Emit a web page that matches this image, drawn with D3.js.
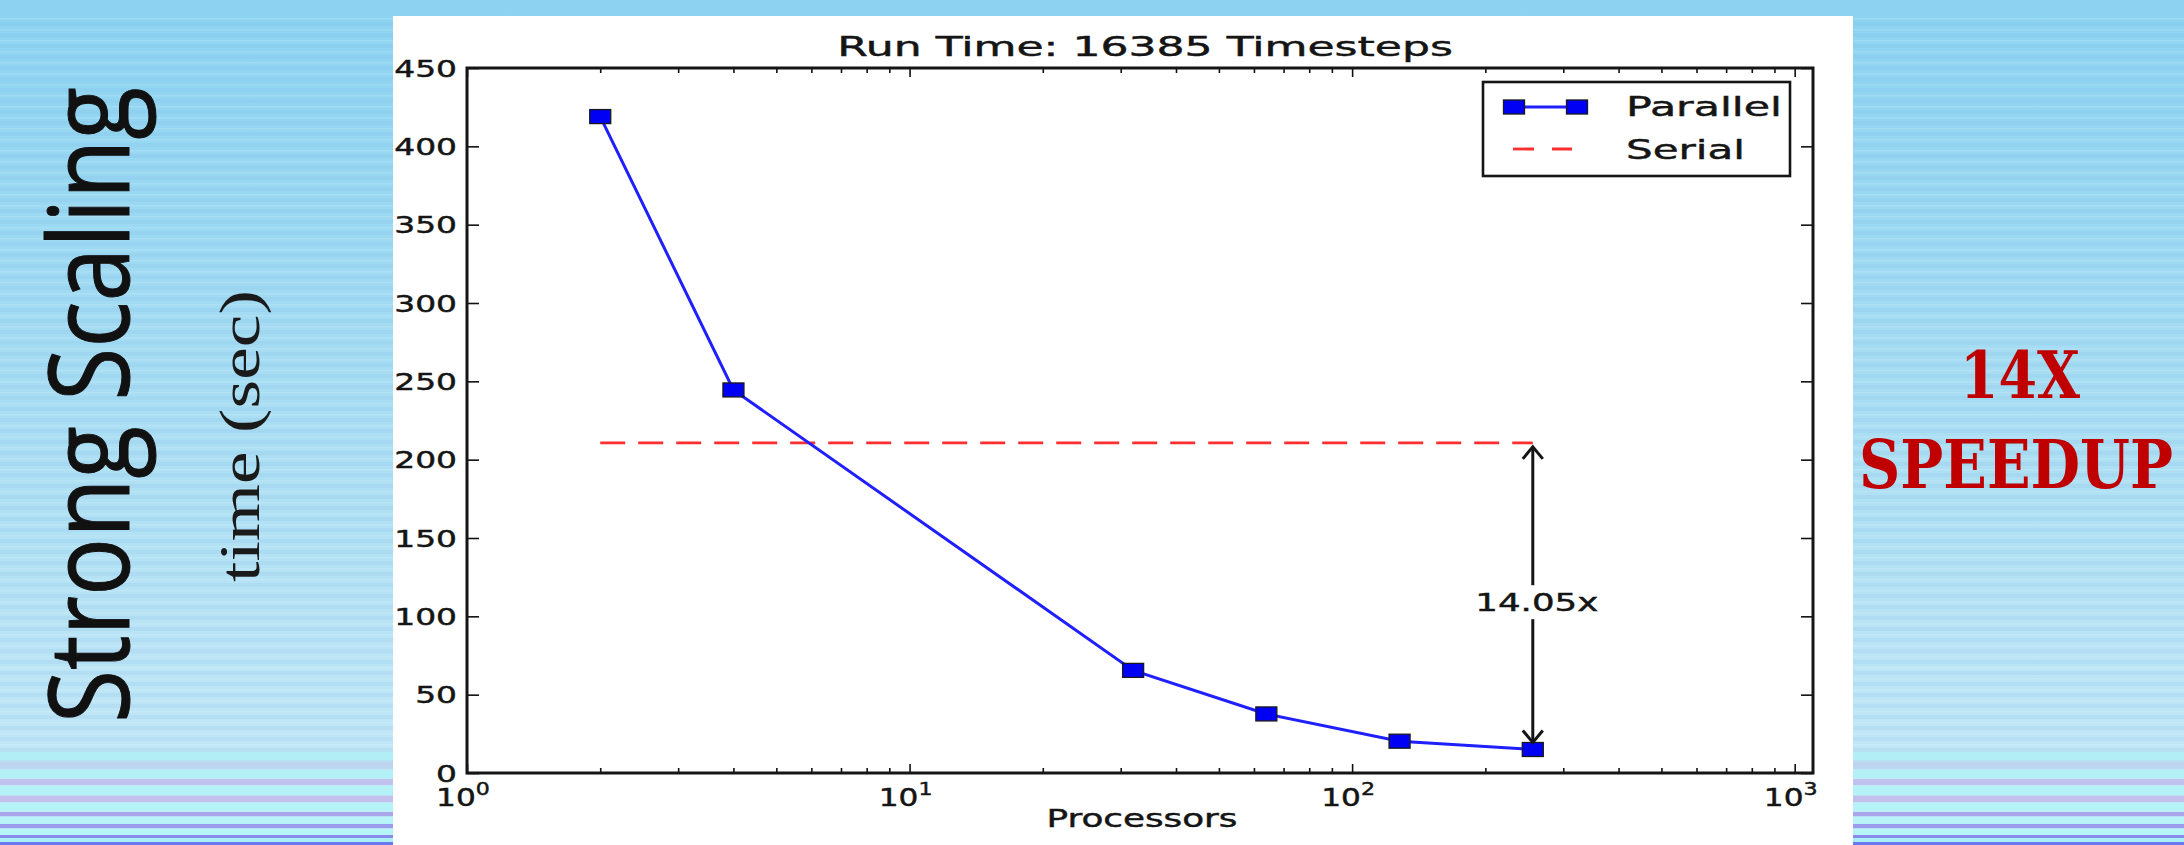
<!DOCTYPE html>
<html><head><meta charset="utf-8">
<script src="https://cdn.jsdelivr.net/npm/d3@7"></script>
<style>body{margin:0;background:#fff;} svg{display:block}</style>
</head><body><svg id="c" width="2184" height="845"></svg>
<script>
// ---- data ----
const processors = [2, 4, 32, 64, 128, 256];
const parallelTime = [419, 244.5, 65.5, 37.7, 20.3, 15.0];
const serialTime = 210.7;
const speedupLabel = "14.05x";
const yTickValues = [0, 50, 100, 150, 200, 250, 300, 350, 400, 450];
const xMajorTicks = [1, 10, 100, 1000];
const xTickExponents = ["0", "1", "2", "3"];
const seriesNames = ["Parallel", "Serial"];
const chartTitle = "Run Time: 16385 Timesteps";
const xLabel = "Processors";
const yLabel = "time (sec)";
const sideTitle = "Strong Scaling";
const callout = ["14X", "SPEEDUP"];

// ---- layout ----
const W = 2184, H = 845;
const L = 467, R = 1813, T = 68, B = 773;
const SX = 1.43; // horizontal stretch of the chart picture
const svg = d3.select("#c");

// background
const defs = svg.append("defs");
const grad = defs.append("linearGradient").attr("id", "bg").attr("x1", 0).attr("x2", 0).attr("y1", 0).attr("y2", 1);
[[0, "#8cd3f1"], [0.45, "#a7ddf3"], [0.85, "#bfe6f6"], [1, "#c4e8f6"]].forEach(s =>
  grad.append("stop").attr("offset", s[0]).attr("stop-color", s[1]));
const pat = defs.append("pattern").attr("id", "stripes").attr("patternUnits", "userSpaceOnUse")
  .attr("width", 20).attr("height", 11);
pat.append("rect").attr("x", 0).attr("y", 0).attr("width", 20).attr("height", 4).attr("fill", "rgba(110,160,215,0.11)");
pat.append("rect").attr("x", 0).attr("y", 7).attr("width", 20).attr("height", 1.5).attr("fill", "rgba(255,255,255,0.12)");
svg.append("rect").attr("width", W).attr("height", H).attr("fill", "url(#bg)");
svg.append("rect").attr("y", 16).attr("width", W).attr("height", H - 16).attr("fill", "url(#stripes)");

const bottomBands = [
  [752, 8, "#b2eef6"], [762, 7, "#bcd6f2"], [770, 8, "#b4f0f7"], [779, 6, "#c2c2ee"],
  [786, 9, "#b4f2f8"], [796, 6, "#c4c0ee"], [803, 8, "#b6f3f8"], [812, 4, "#a9a6ec"],
  [817, 7, "#b9f4f8"], [824, 4, "#9c9cee"], [829, 6, "#b6f4f8"], [835, 3, "#8a8aee"],
  [838, 4, "#a8f0f6"], [842, 3, "#6a78ee"]
];
[[0, 393], [1853, W - 1853]].forEach(([x0, w]) => {
  svg.append("g").selectAll("rect").data(bottomBands).join("rect")
    .attr("x", x0).attr("width", w).attr("y", d => d[0]).attr("height", d => d[1]).attr("fill", d => d[2]);
});

// white panel
svg.append("rect").attr("x", 393).attr("y", 16).attr("width", 1853 - 393).attr("height", H - 16).attr("fill", "#fff");

// scales
const x = d3.scaleLog().domain([1, 1100]).range([L, R]);
const y = d3.scaleLinear().domain([0, 450]).range([B, T]);

const isMajor = v => Math.abs(Math.log10(v) - Math.round(Math.log10(v))) < 1e-9;
const minorTicks = x.ticks().filter(v => !isMajor(v));

function styleAxis(g) {
  g.select(".domain").remove();
  g.selectAll(".tick line").attr("stroke", "#111").attr("stroke-width", 1.6);
  g.selectAll(".tick text").remove();
}
const ax = svg.append("g");
ax.append("g").attr("transform", `translate(0,${B})`).call(d3.axisBottom(x).tickValues(minorTicks).tickSize(-5).tickFormat("")).call(styleAxis);
ax.append("g").attr("transform", `translate(0,${B})`).call(d3.axisBottom(x).tickValues(xMajorTicks).tickSize(-9).tickFormat("")).call(styleAxis);
ax.append("g").attr("transform", `translate(0,${T})`).call(d3.axisTop(x).tickValues(minorTicks).tickSize(-5).tickFormat("")).call(styleAxis);
ax.append("g").attr("transform", `translate(0,${T})`).call(d3.axisTop(x).tickValues(xMajorTicks).tickSize(-9).tickFormat("")).call(styleAxis);
ax.append("g").attr("transform", `translate(${L},0)`).call(d3.axisLeft(y).tickValues(yTickValues).tickSize(-12).tickFormat("")).call(styleAxis);
ax.append("g").attr("transform", `translate(${R},0)`).call(d3.axisRight(y).tickValues(yTickValues).tickSize(-12).tickFormat("")).call(styleAxis);

// helper: horizontally stretched text; if len given, the stretch is fitted to that width
function stext(parent, px, py, str, size, anchor, opts = {}) {
  const t = parent.append("text")
    .attr("text-anchor", anchor)
    .attr("font-family", opts.family || "DejaVu Sans, sans-serif")
    .attr("font-size", size)
    .attr("fill", opts.fill || "#151515")
    .attr("stroke", opts.fill || "#151515").attr("stroke-width", 0.45)
    .text(str);
  let sx = opts.sx || SX;
  if (opts.len) sx = opts.len / t.node().getComputedTextLength();
  t.attr("transform", `translate(${px},${py}) scale(${sx},1)`);
  return t;
}
// rotated text fitted to a given length (along its reading direction)
function vtext(px, py, str, size, len, family, fill, extra) {
  const t = svg.append("text").attr("text-anchor", "middle")
    .attr("font-family", family).attr("font-size", size).attr("fill", fill).text(str);
  if (extra) extra(t);
  const k = len / t.node().getComputedTextLength();
  t.attr("transform", `translate(${px},${py}) rotate(-90) scale(${k},1)`);
  return t;
}
// horizontal text fitted to width (no vertical change)
function htext(px, py, str, size, len, family, fill, extra) {
  const t = svg.append("text").attr("text-anchor", "middle")
    .attr("font-family", family).attr("font-size", size).attr("fill", fill).text(str);
  if (extra) extra(t);
  const k = len / t.node().getComputedTextLength();
  t.attr("transform", `translate(${px},${py}) scale(${k},1)`);
  return t;
}

// y tick labels
yTickValues.forEach(v => stext(svg, 457, y(v) + 8.5, String(v), 23, "end"));

// x tick labels
xMajorTicks.forEach((v, i) => {
  const t = svg.append("text")
    .attr("transform", `translate(${x(v) - 4},806) scale(1.3,1)`)
    .attr("text-anchor", "middle")
    .attr("font-family", "DejaVu Sans, sans-serif").attr("font-size", 24).attr("fill", "#151515")
    .attr("stroke", "#151515").attr("stroke-width", 0.45);
  t.append("tspan").text("10");
  t.append("tspan").attr("dy", -11).attr("font-size", 17).text(xTickExponents[i]);
});

// serial dashed line
svg.append("line")
  .attr("x1", x(processors[0])).attr("x2", x(processors[processors.length - 1]))
  .attr("y1", y(serialTime)).attr("y2", y(serialTime))
  .attr("stroke", "#ff2f2f").attr("stroke-width", 2.8).attr("stroke-dasharray", "25,13");

// parallel line + markers
const pts = processors.map((p, i) => ({ p, t: parallelTime[i] }));
svg.append("path").datum(pts)
  .attr("d", d3.line().x(d => x(d.p)).y(d => y(d.t)))
  .attr("fill", "none").attr("stroke", "#1f1fff").attr("stroke-width", 3);
svg.append("g").selectAll("rect").data(pts).join("rect")
  .attr("x", d => x(d.p) - 10.5).attr("y", d => y(d.t) - 7)
  .attr("width", 21).attr("height", 14)
  .attr("fill", "#0000f5").attr("stroke", "#1a1a1a").attr("stroke-width", 1.3);

// speedup annotation (double arrow)
const lastP = processors[processors.length - 1];
const ax0 = x(lastP);
const yTop = y(serialTime) + 4, yBot = y(parallelTime[parallelTime.length - 1]) - 7;
const ann = svg.append("g").attr("stroke", "#151515").attr("stroke-width", 3).attr("fill", "none");
ann.append("line").attr("x1", ax0).attr("x2", ax0).attr("y1", yTop).attr("y2", yBot);
ann.append("path").attr("d", `M${ax0 - 10},${yTop + 12}L${ax0},${yTop}L${ax0 + 10},${yTop + 12}`);
ann.append("path").attr("d", `M${ax0 - 10},${yBot - 12}L${ax0},${yBot}L${ax0 + 10},${yBot - 12}`);
const midY = y((serialTime + parallelTime[parallelTime.length - 1]) / 2) + 6;
svg.append("rect").attr("x", ax0 - 64).attr("y", midY - 17).attr("width", 134).attr("height", 34).attr("fill", "#fff");
stext(svg, ax0 + 4, midY + 9, speedupLabel, 25, "middle", { len: 123 });

// frame
svg.append("rect").attr("x", L).attr("y", T).attr("width", R - L).attr("height", B - T)
  .attr("fill", "none").attr("stroke", "#151515").attr("stroke-width", 3);

// legend
const lg = svg.append("g");
lg.append("rect").attr("x", 1483).attr("y", 82).attr("width", 307).attr("height", 94)
  .attr("fill", "#fff").attr("stroke", "#151515").attr("stroke-width", 2.6);
lg.append("line").attr("x1", 1514).attr("x2", 1577).attr("y1", 107).attr("y2", 107)
  .attr("stroke", "#1f1fff").attr("stroke-width", 3);
[1514, 1577].forEach(cx => lg.append("rect").attr("x", cx - 10.5).attr("y", 100).attr("width", 21).attr("height", 14)
  .attr("fill", "#0000f5").attr("stroke", "#1a1a1a").attr("stroke-width", 1.3));
lg.append("line").attr("x1", 1513).attr("x2", 1572).attr("y1", 149).attr("y2", 149)
  .attr("stroke", "#ff2f2f").attr("stroke-width", 2.8).attr("stroke-dasharray", "21,18");
stext(lg, 1626, 116, seriesNames[0], 27, "start", { len: 156 });
stext(lg, 1626, 159, seriesNames[1], 27, "start", { len: 119 });

// title & x label
stext(svg, 1145, 56, chartTitle, 27, "middle", { len: 616 });
stext(svg, 1142, 827, xLabel, 24, "middle", { len: 191 });

// left side texts
vtext(129, 405, sideTitle, 112, 636, "Open Sans, sans-serif", "#111",
  t => t.attr("stroke", "#111").attr("stroke-width", 1));
vtext(259, 436, yLabel, 56, 292, "Liberation Serif, serif", "#1a1a1a");

// right callout
htext(2020, 398, callout[0], 66, 120, "DejaVu Serif, serif", "#c00000", t => t.attr("font-weight", "bold"));
htext(2016, 488, callout[1], 68, 314, "DejaVu Serif, serif", "#c00000", t => t.attr("font-weight", "bold"));
</script></body></html>
